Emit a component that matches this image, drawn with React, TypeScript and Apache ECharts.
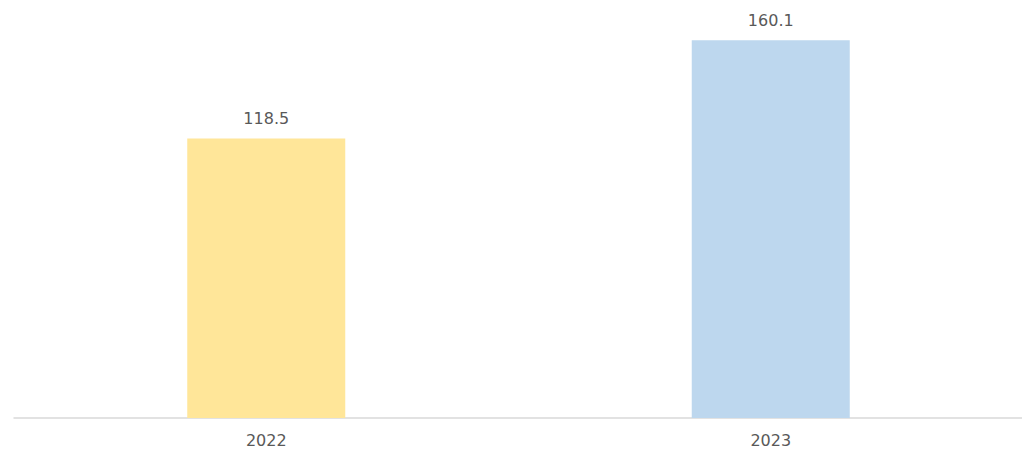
import React, { useEffect, useRef } from 'react';
import * as echarts from 'echarts';

const categories = ['2022', '2023'];
const values = [118.5, 160.1];
const barColors = ['#FFE699', '#BDD7EE'];

const App: React.FC = () => {
  const chartRef = useRef<HTMLDivElement>(null);

  useEffect(() => {
    const chart = echarts.init(chartRef.current as HTMLDivElement, undefined, { renderer: 'svg' });
    const option = {
      animation: false,
      grid: { left: 14, right: 7, top: 17, bottom: 36, containLabel: false },
      xAxis: {
        type: 'category',
        data: categories,
        axisLine: { lineStyle: { color: '#D9D9D9', width: 1.5 } },
        axisTick: { show: false },
        axisLabel: {
          color: '#595959',
          fontSize: 16,
          fontFamily: 'DejaVu Sans, sans-serif',
          margin: 14
        }
      },
      yAxis: {
        type: 'value',
        min: 0,
        max: 170,
        show: false,
        splitLine: { show: false }
      },
      series: [{
        type: 'bar',
        barWidth: 158,
        data: values.map((v, i) => ({ value: v, itemStyle: { color: barColors[i] } })),
        label: {
          show: true,
          position: 'top',
          distance: 12,
          color: '#595959',
          fontSize: 16,
          fontFamily: 'DejaVu Sans, sans-serif',
          formatter: (p: any) => p.value.toFixed(1)
        }
      }]
    };
    chart.setOption(option);
    return () => {
      chart.dispose();
    };
  }, []);

  return <div ref={chartRef} style={{ width: '1030px', height: '454px', margin: '-8px' }}></div>;
};

export default App;
